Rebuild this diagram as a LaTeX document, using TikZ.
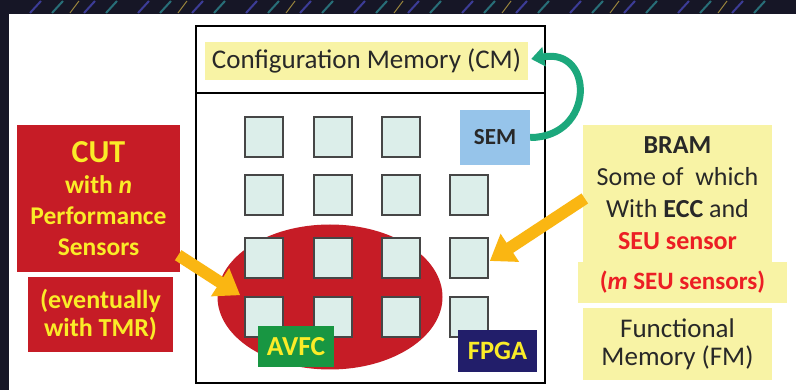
\documentclass[tikz,border=0pt]{standalone}
\usepackage{fontspec}
\setmainfont{Carlito}
\usetikzlibrary{calc}
\usetikzlibrary{arrows.meta}
\usetikzlibrary{positioning, shapes.geometric}

\definecolor{bandnavy}{RGB}{22,22,38}
\definecolor{bandblue}{RGB}{60,60,150}
\definecolor{bandteal}{RGB}{40,110,120}
\definecolor{bandgold}{RGB}{150,130,60}
\definecolor{cutred}{RGB}{198,28,38}
\definecolor{cutyellow}{RGB}{250,236,40}
\definecolor{memyellow}{RGB}{248,243,165}
\definecolor{textgray}{RGB}{40,40,40}
\definecolor{seured}{RGB}{236,30,36}
\definecolor{semblue}{RGB}{150,196,234}
\definecolor{cellfill}{RGB}{220,238,234}
\definecolor{celldraw}{RGB}{70,70,70}
\definecolor{avfcgreen}{RGB}{24,150,66}
\definecolor{fpganavy}{RGB}{34,30,106}
\definecolor{semteal}{RGB}{28,168,124}
\definecolor{arroworange}{RGB}{250,182,18}

\begin{document}
\begin{tikzpicture}[x=1pt,y=-1pt,
    cell/.style={draw=celldraw, fill=cellfill, line width=1.6pt, minimum width=38, minimum height=40, inner sep=0pt},
    membox/.style={fill=memyellow, text=textgray, align=center, inner sep=0pt, font=\fontsize{26}{32}\selectfont},
    redbox/.style={fill=cutred, text=cutyellow, align=center, inner sep=0pt, font=\bfseries\fontsize{25.5}{31}\selectfont},
    tagbox/.style={text=cutyellow, inner sep=0pt, font=\bfseries\fontsize{27.5}{30}\selectfont}]

    % page and the dark border of the slide
    \useasboundingbox (0,0) rectangle (796,390);
    \fill[white] (0,0) rectangle (796,390);
    \fill[bandnavy] (0,0) rectangle (796,14);
    \fill[bandnavy] (0,0) rectangle (9,390);
    \foreach \x in {30,84,...,780} \draw[bandblue, line width=2pt] (\x,13) -- ++(11,-12);
    \foreach \x in {52,106,...,780} \draw[bandteal, line width=2pt] (\x,13) -- ++(11,-12);
    \foreach \x in {70,178,...,780} \draw[bandgold, line width=1pt] (\x,13) -- ++(9,-12);

    % the FPGA chip
    \node[draw, line width=2.4pt, minimum width=349, minimum height=357, anchor=north west, inner sep=0pt] (chip) at (195,25) {};
    \draw[line width=2pt] (chip.west |- 0,93) -- (chip.east |- 0,93);
    \node[membox, minimum width=323, minimum height=38, font=\fontsize{27}{32}\selectfont] (cm) at (366.5,61) {Configuration Memory (CM)};
    \node[fill=semblue, text=textgray, minimum width=70, minimum height=55, inner sep=0pt, font=\bfseries\fontsize{23}{28}\selectfont] (sem) at (495,137.5) {SEM};

    % logic covered by the AVFC
    \node[ellipse, fill=cutred, minimum width=225, minimum height=145, inner sep=0pt] (avfcarea) at (330,297) {};

    % Add or remove cells here
    \foreach \c/\x in {1/264,2/333,3/401}
        \node[cell] (sq-1-\c) at (\x,137) {};
    \foreach \r/\y in {2/195,3/258,4/317}
        \foreach \c/\x in {1/264,2/333,3/401,4/469}
            \node[cell] (sq-\r-\c) at (\x,\y) {};

    \node[tagbox, fill=avfcgreen, minimum width=76, minimum height=41] (avfc) at (296,346.5) {AVFC};
    \node[tagbox, fill=fpganavy, minimum width=79, minimum height=42, font=\bfseries\fontsize{26.5}{30}\selectfont] (fpga) at (497.5,351) {FPGA};

    % circuit under test
    \node[redbox, minimum width=163, minimum height=147] (cut) at (98.5,198.5)
        {{\fontsize{32}{31}\selectfont CUT}\\with \textit{n}\\Performance\\Sensors};
    \node[redbox, minimum width=145, minimum height=75, font=\bfseries\fontsize{26}{28}\selectfont] (tmr) at (100.5,314.5)
        {(eventually\\with TMR)};

    % memories
    \node[membox, minimum width=189, minimum height=137] (bram) at (677.5,193.5)
        {\textbf{BRAM}\\Some of\ \ which\\With \textbf{ECC} and\\\textcolor{seured}{\textbf{SEU sensor}}};
    \node[membox, minimum width=209, minimum height=41, text=seured, font=\bfseries\fontsize{25}{30}\selectfont] (seu) at (682.5,282.5)
        {(\textit{m} SEU sensors)};
    \node[membox, minimum width=189, minimum height=72, font=\fontsize{27}{28}\selectfont] (fm) at (677.5,344)
        {Functional\\Memory (FM)};

    % arrows
    \begin{scope}[every edge/.style={draw}]
    \path (sem.east) edge[semteal, line width=7pt, -{Triangle[width=19pt,length=13pt]}, out=0, in=10, looseness=2.1] ($(cm.east)+(3,-2)$);
    \path ($(cut.south east)+(-2,-17)$) edge[arroworange, line width=12pt, -{Triangle[width=32pt,length=24pt]}] ($(sq-4-1.north west)+(-4,-1)$);
    \path ($(bram.west)+(2,5)$) edge[arroworange, line width=12pt, -{Triangle[width=32pt,length=24pt]}] ($(sq-3-4.east)+(1,3)$);
    \end{scope}

\end{tikzpicture}
\end{document}
